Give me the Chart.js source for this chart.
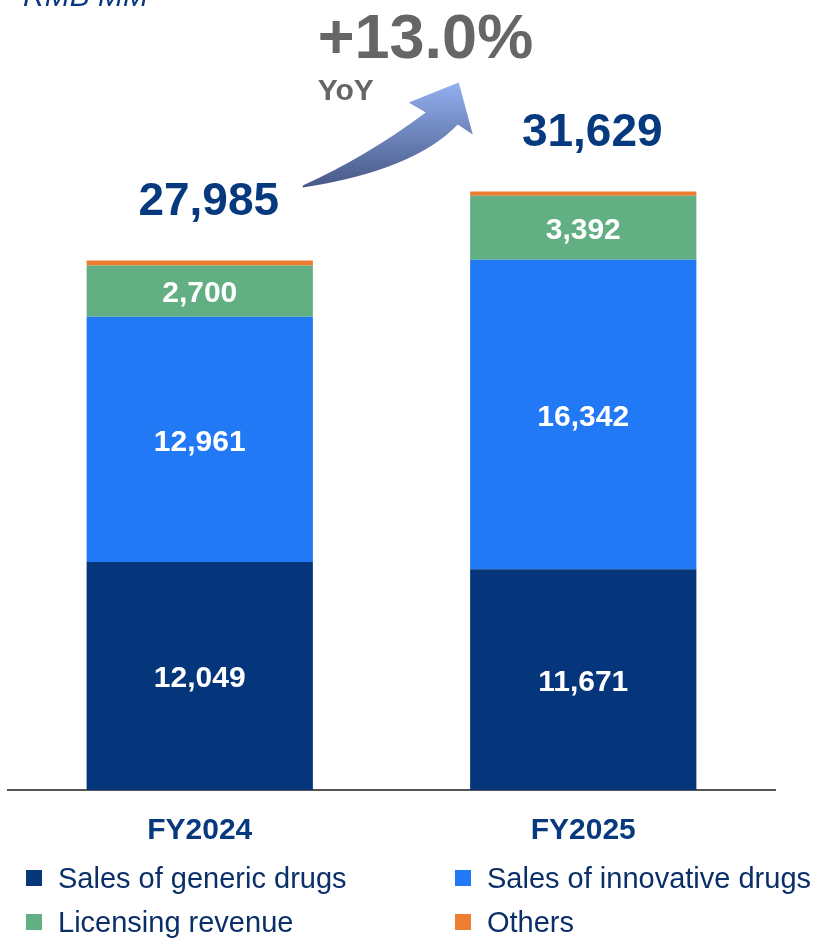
<!DOCTYPE html>
<html><head><meta charset="utf-8">
<script src="https://cdn.jsdelivr.net/npm/chart.js@4"></script>
<style>html,body{margin:0;padding:0;background:#fff;overflow:hidden;} #wrap{width:815px;height:941px;position:relative;}</style>
</head><body><div id="wrap"><canvas id="c" width="815" height="941"></canvas></div>
<script>
const categories = ['FY2024', 'FY2025'];
const seriesNames = ['Sales of generic drugs', 'Sales of innovative drugs', 'Licensing revenue', 'Others'];
const genericSales = [12049, 11671];
const innovativeSales = [12961, 16342];
const licensingRevenue = [2700, 3392];
const others = [275, 224];
const totals = [27985, 31629];
const yoyLabel = '+13.0%';
const yoyText = 'YoY';
const unitLabel = 'RMB MM';
const seriesColors = ['#05357a', '#2279f5', '#62af83', '#ed7d31'];

const FONT = '"Liberation Sans", Arial, Helvetica, sans-serif';
const NAVY = '#07397f';
const fmt = v => v.toLocaleString('en-US');

const seriesValues = [genericSales, innovativeSales, licensingRevenue, others];

const annotatePlugin = {
  id: 'annotate',
  afterDatasetsDraw(chart) {
    const ctx = chart.ctx;
    const xs = chart.scales.x, ys = chart.scales.y;
    ctx.save();
    // segment labels (except Others)
    ctx.fillStyle = '#ffffff';
    ctx.font = 'bold 30px ' + FONT;
    ctx.textAlign = 'center';
    ctx.textBaseline = 'middle';
    for (let d = 0; d < 3; d++) {
      const meta = chart.getDatasetMeta(d);
      meta.data.forEach((el, i) => {
        const cy = (el.y + el.base) / 2;
        ctx.fillText(fmt(seriesValues[d][i]), el.x, cy + 3);
      });
    }
    // totals
    ctx.fillStyle = NAVY;
    ctx.font = 'bold 46px ' + FONT;
    ctx.textBaseline = 'alphabetic';
    totals.forEach((t, i) => {
      const x = xs.getPixelForValue(i);
      const y = ys.getPixelForValue(t);
      ctx.fillText(fmt(t), x + 9, y - 45);
    });
    // arrow anchored to the FY2024 total
    const ax = xs.getPixelForValue(0), ay = ys.getPixelForValue(totals[0]);
    const P = (dx, dy) => [ax + dx, ay + dy];
    const grad = ctx.createLinearGradient(0, ay - 73, 0, ay - 178);
    grad.addColorStop(0, '#475886');
    grad.addColorStop(1, '#93b0f0');
    ctx.fillStyle = grad;
    ctx.beginPath();
    let p = P(103, -75); ctx.moveTo(p[0], p[1]);
    let c = P(167, -104); p = P(226, -148); ctx.quadraticCurveTo(c[0], c[1], p[0], p[1]);
    p = P(209, -158); ctx.lineTo(p[0], p[1]);
    p = P(259, -178); ctx.lineTo(p[0], p[1]);
    p = P(273, -126); ctx.lineTo(p[0], p[1]);
    p = P(258, -136); ctx.lineTo(p[0], p[1]);
    c = P(214, -90); p = P(103, -73); ctx.quadraticCurveTo(c[0], c[1], p[0], p[1]);
    ctx.closePath();
    ctx.fill();
    // YoY texts
    ctx.fillStyle = '#666666';
    ctx.textAlign = 'left';
    ctx.font = 'bold 63px ' + FONT;
    p = P(118, -202); ctx.fillText(yoyLabel, p[0], p[1]);
    ctx.font = 'bold 30px ' + FONT;
    p = P(118, -160); ctx.fillText(yoyText, p[0], p[1]);
    ctx.restore();
  },
  afterDraw(chart) {
    const ctx = chart.ctx;
    ctx.save();
    // unit label (cut at the top edge)
    ctx.fillStyle = NAVY;
    ctx.font = 'italic 30px ' + FONT;
    ctx.textAlign = 'left';
    ctx.textBaseline = 'alphabetic';
    ctx.fillText(unitLabel, 23, 6);
    // legend: two columns
    const colX = [26, 455], rowY = [870, 914];
    ctx.font = '29px ' + FONT;
    seriesNames.forEach((name, i) => {
      const x = colX[i % 2], y = rowY[Math.floor(i / 2)];
      ctx.fillStyle = seriesColors[i];
      ctx.fillRect(x, y, 16, 16);
      ctx.fillStyle = '#0b2f68';
      ctx.fillText(name, x + 32, y + 18);
    });
    ctx.restore();
  }
};

const datasets = seriesNames.map((name, i) => ({
  label: name,
  data: seriesValues[i],
  backgroundColor: seriesColors[i],
  borderWidth: 0,
  barPercentage: 0.59,
  categoryPercentage: 1.0
}));

new Chart(document.getElementById('c'), {
  type: 'bar',
  data: { labels: categories, datasets },
  options: {
    responsive: false,
    animation: false,
    devicePixelRatio: 1,
    layout: { padding: { left: 8, right: 40, top: 33, bottom: 69 } },
    plugins: { legend: { display: false }, tooltip: { enabled: false } },
    scales: {
      x: {
        stacked: true,
        grid: { display: false, drawTicks: false },
        border: { display: true, color: '#555555', width: 2 },
        ticks: { color: NAVY, font: { family: FONT, size: 30, weight: 'bold' }, padding: 23 }
      },
      y: {
        stacked: true,
        display: false,
        min: 0,
        max: 40000
      }
    }
  },
  plugins: [annotatePlugin]
});
</script>
</body></html>
